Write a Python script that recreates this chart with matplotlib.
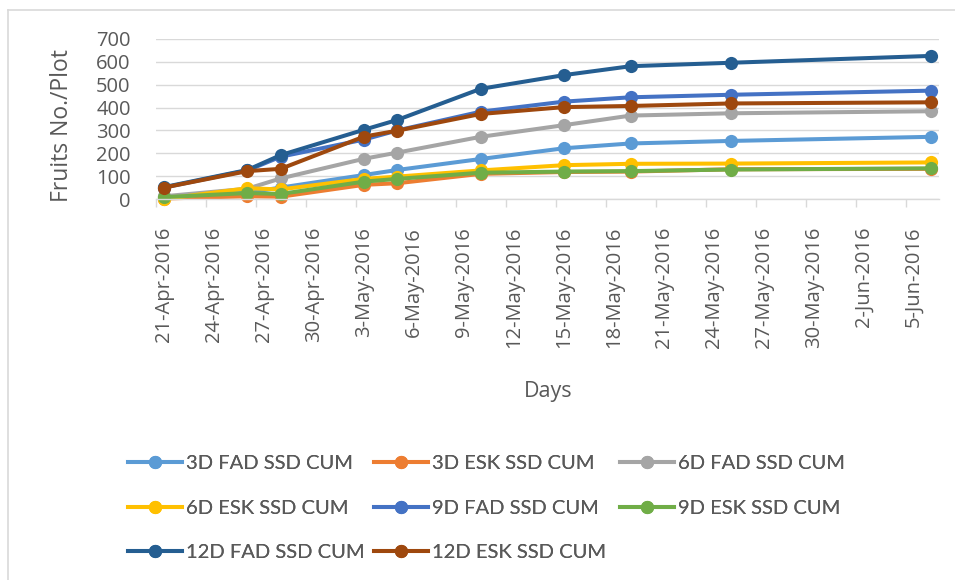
import matplotlib
matplotlib.use("Agg")
import matplotlib.pyplot as plt
import matplotlib.dates as mdates
from matplotlib.lines import Line2D
import numpy as np
import datetime as dt

# Observation dates and cumulative fruit counts per plot
dates = ["2016-04-21", "2016-04-26", "2016-04-28", "2016-05-03", "2016-05-05",
         "2016-05-10", "2016-05-15", "2016-05-19", "2016-05-25", "2016-06-06"]

fad3 = [10, 28, 50, 105, 127, 175, 222, 243, 254, 272]
esk3 = [2, 12, 10, 62, 69, 110, 118, 120, 130, 132]
fad6 = [12, 45, 90, 176, 203, 272, 323, 365, 375, 384]
esk6 = [0, 47, 42, 88, 98, 125, 148, 154, 155, 160]
fad9 = [50, 125, 185, 260, 300, 382, 426, 445, 456, 474]
esk9 = [8, 26, 22, 76, 88, 115, 120, 122, 129, 134]
fad12 = [52, 127, 192, 303, 346, 482, 542, 581, 596, 626]
esk12 = [50, 122, 132, 273, 299, 372, 402, 407, 418, 423]

series_names = ["3D FAD SSD CUM", "3D ESK SSD CUM", "6D FAD SSD CUM",
                "6D ESK SSD CUM", "9D FAD SSD CUM", "9D ESK SSD CUM",
                "12D FAD SSD CUM", "12D ESK SSD CUM"]
series_values = [fad3, esk3, fad6, esk6, fad9, esk9, fad12, esk12]
colors = ["#5B9BD5", "#ED7D31", "#A5A5A5", "#FFC000",
          "#4472C4", "#70AD47", "#255E91", "#9E480E"]

y_ticks = [0, 100, 200, 300, 400, 500, 600, 700]

TXT = "#595959"
GRID = "#D9D9D9"
FONT = ["Open Sans", "DejaVu Sans"]
LEG_FONT = ["Lato", "DejaVu Sans"]

W, H = 955, 580
fig = plt.figure(figsize=(W / 100, H / 100), dpi=100)
fig.patch.set_facecolor("white")

# plot area in pixel coordinates
left, right, top, bottom = 155.7, 938.9, 39, 199
ax = fig.add_axes([left / W, 1 - bottom / H, (right - left) / W, (bottom - top) / H])

x = [mdates.date2num(dt.datetime.strptime(d, "%Y-%m-%d")) for d in dates]
handles = []
for name, vals, c in zip(series_names, series_values, colors):
    h, = ax.plot(x, vals, color=c, lw=2.9, marker="o", ms=9.5,
                 markeredgewidth=0, label=name, solid_capstyle="round",
                 clip_on=False)
    handles.append(h)

start = mdates.date2num(dt.datetime(2016, 4, 21))
end = mdates.date2num(dt.datetime(2016, 6, 6))
ax.set_xlim(start - 0.5, end + 0.5)
ax.set_ylim(0, 700)

label_days = np.arange(start, end, 3)
ax.set_xticks(label_days)
ax.set_xticklabels([mdates.num2date(d).strftime("%-d-%b-%Y") for d in label_days],
                   rotation=90, fontsize=14.5, color=TXT, family=FONT)
ax.set_xticks(label_days - 0.5, minor=True)
ax.tick_params(axis="x", which="major", length=0, pad=20)
ax.tick_params(axis="x", which="minor", length=6, width=1, color=GRID, direction="out")

ax.set_yticks(y_ticks)
ax.set_yticklabels([str(v) for v in y_ticks], fontsize=14.5, color=TXT, family=FONT)
ax.tick_params(axis="y", length=0, pad=18)

ax.grid(axis="y", color=GRID, lw=1)
ax.set_axisbelow(True)
for s in ["top", "right", "left"]:
    ax.spines[s].set_visible(False)
ax.spines["bottom"].set_color(GRID)
ax.spines["bottom"].set_linewidth(1)

fig.text(62 / W, 1 - 126 / H, "Fruits No./Plot", rotation=90, ha="center",
         va="center", fontsize=16.5, color=TXT, family=FONT)
fig.text(548 / W, 1 - 392 / H, "Days", ha="center", va="center",
         fontsize=15.5, color=TXT, family=FONT)

# legend: three columns placed at fixed positions, filled row by row
col_x = [128, 374, 620]
for ci, cx in enumerate(col_x):
    idx = list(range(ci, len(handles), 3))
    hs = [Line2D([], [], color=colors[i], lw=2.9, marker="o", ms=9.5,
                 markeredgewidth=0) for i in idx]
    lg = fig.legend(hs, [series_names[i] for i in idx], loc="upper left",
                    bbox_to_anchor=(cx / W, 1 - 455 / H), frameon=False,
                    borderpad=0, borderaxespad=0, handlelength=2.7,
                    handletextpad=0.2, labelspacing=1.37,
                    prop={"family": LEG_FONT, "size": 14.5})
    for t in lg.get_texts():
        t.set_color(TXT)
    fig.add_artist(lg)

# chart frame edges
fig.add_artist(Line2D([8 / W, 8 / W], [0, 1 - 10 / H], color=GRID, lw=1.2,
                      transform=fig.transFigure))
fig.add_artist(Line2D([8 / W, 1], [1 - 10 / H, 1 - 10 / H], color=GRID, lw=1.2,
                      transform=fig.transFigure))

fig.savefig("out.png", dpi=100)
